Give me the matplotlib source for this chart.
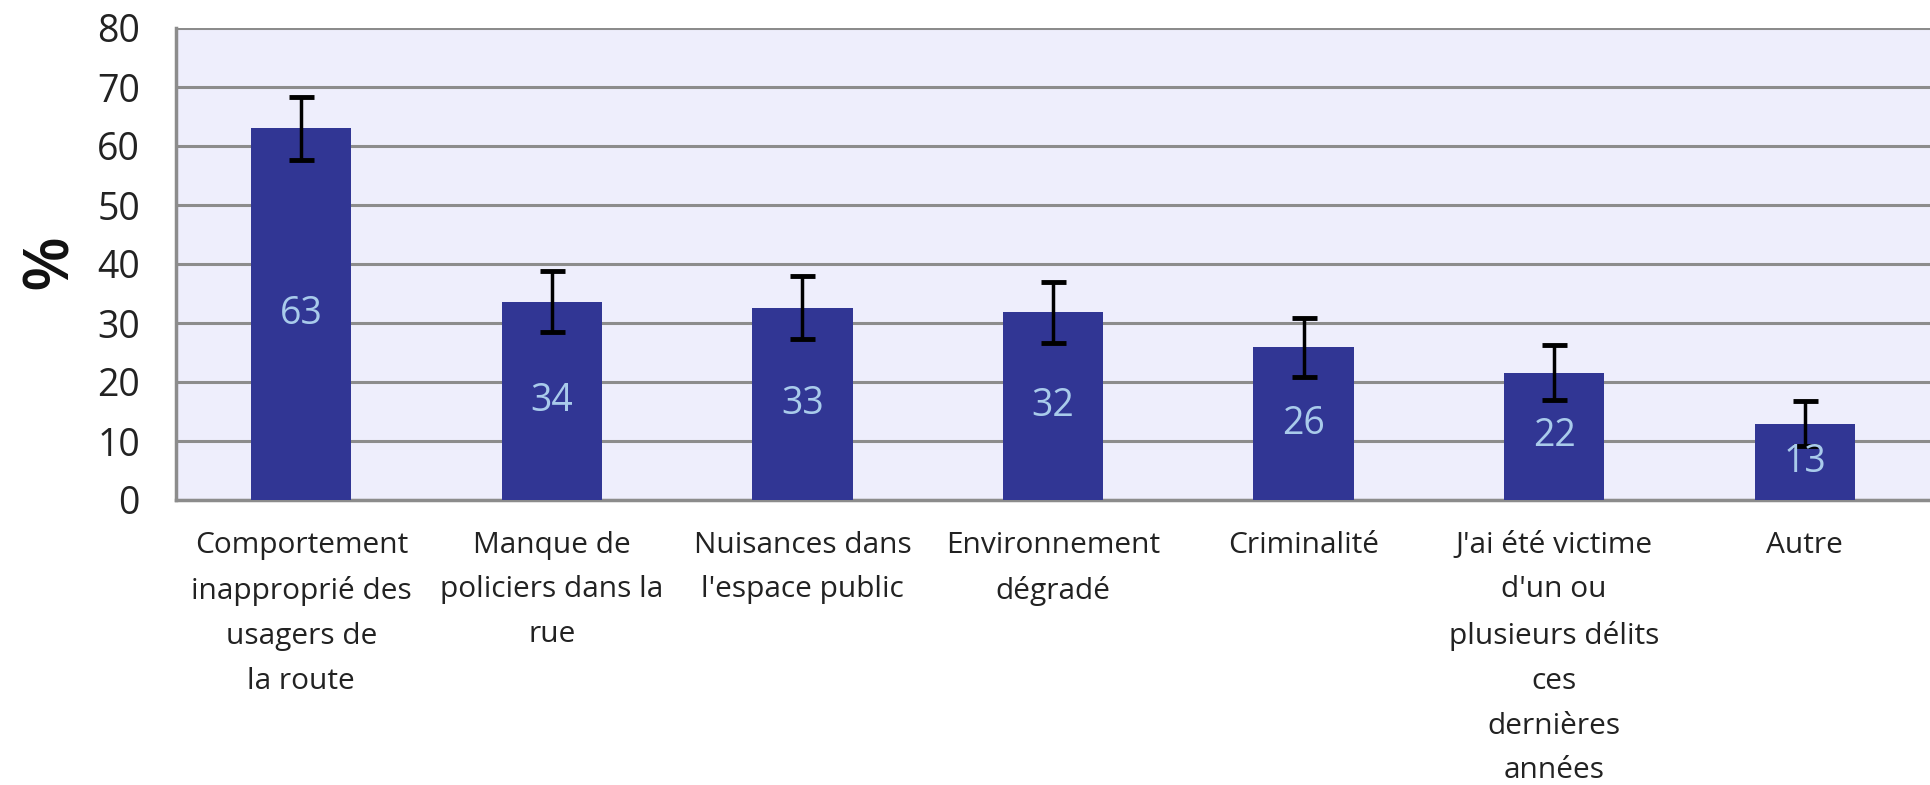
import matplotlib
matplotlib.use("Agg")
import matplotlib.pyplot as plt
import numpy as np

# Données
categories = [
    "Comportement\ninapproprié des\nusagers de\nla route",
    "Manque de\npoliciers dans la\nrue",
    "Nuisances dans\nl'espace public",
    "Environnement\ndégradé",
    "Criminalité",
    "J'ai été victime\nd'un ou\nplusieurs délits\nces\ndernières\nannées",
    "Autre",
]
values = [63.0, 33.6, 32.6, 31.8, 25.9, 21.6, 12.9]
errors = [5.3, 5.2, 5.3, 5.2, 5.0, 4.7, 3.8]
value_labels = ["63", "34", "33", "32", "26", "22", "13"]
yticks = [0, 10, 20, 30, 40, 50, 60, 70, 80]

BAR = "#313694"
LABEL = "#A9CBEB"
BG = "#EEEEFC"
GRID = "#8C8C8C"
FONT = ["Open Sans", "DejaVu Sans"]

fig = plt.figure(figsize=(19.3, 7.85), dpi=100)
ax = fig.add_axes([176 / 1930, 1 - 500 / 785, 1 - 176 / 1930, (500 - 28) / 785])
ax.set_facecolor(BG)

x = np.arange(len(categories))
bars = ax.bar(x, values, width=0.4, color=BAR, zorder=3,
              yerr=errors, capsize=9,
              error_kw=dict(ecolor="black", elinewidth=2.5, capthick=3.5, zorder=4))

ax.bar_label(bars, labels=value_labels, label_type="center", color=LABEL,
             fontsize=27, family=FONT, zorder=5)

ax.set_xlim(-0.5, len(categories) - 0.5)
ax.set_ylim(0, 80)
ax.set_yticks(yticks)
ax.set_yticklabels([str(t) for t in yticks], fontsize=27, family=FONT, color="#222222")
ax.set_xticks(x)
ax.set_xticklabels(categories, fontsize=21.5, linespacing=1.72, family=FONT,
                   color="#222222", va="top")
ax.tick_params(axis="y", length=0, pad=26)
ax.tick_params(axis="x", length=0, pad=22)

ax.grid(True, axis="y", color=GRID, lw=2.2, zorder=1)
for side in ["top", "right"]:
    ax.spines[side].set_visible(False)
for side in ["left", "bottom"]:
    ax.spines[side].set_color(GRID)
    ax.spines[side].set_linewidth(2.5)
    ax.spines[side].set_zorder(2)

fig.text(50 / 1930, 1 - 262 / 785, "%", rotation=90, fontsize=46, fontweight="semibold",
         family=FONT, ha="center", va="center", color="#111111")

fig.savefig("out.png", dpi=100)
